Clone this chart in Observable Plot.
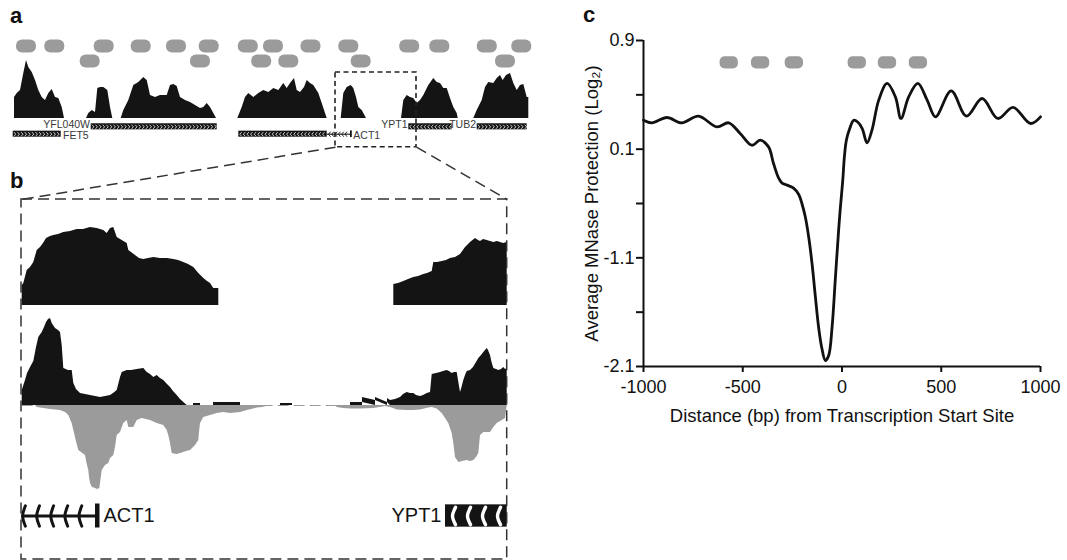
<!DOCTYPE html>
<html><head><meta charset="utf-8">
<script src="https://cdn.jsdelivr.net/npm/d3@7"></script>
<script src="https://cdn.jsdelivr.net/npm/@observablehq/plot@0.6"></script>
<style>
html,body{margin:0;padding:0;background:#fff;}
#fig{position:relative;width:1067px;height:560px;overflow:hidden;font-family:"Liberation Sans",Arial,Helvetica,sans-serif;}
.layer{position:absolute;}
.layer svg{display:block;max-width:none;}
.letter{position:absolute;font-weight:bold;font-size:22px;line-height:1;color:#111;}
</style></head><body><div id="fig"></div>
<script>
const FONT = '"Liberation Sans", Arial, Helvetica, sans-serif';

// ================= Panel a (genome browser overview, positions in a.u.) =================
const nucRow0 = [26, 54.3, 103.7, 140.7, 176, 208.7, 247.8, 273, 310.5, 348.3, 409.2, 439.3, 486.8, 521.3];
const nucRow1 = [89.7, 200, 261.2, 288.3, 360.7, 505];

const covA1 = [[14,0],[14,21],[16.7,25],[20,28],[23.3,45],[26,58],[28.3,51],[31.7,46],[35,38],[38.3,28],[41.7,21],[45,18],[48.3,25],[51.7,29],[55,21],[58.3,20],[61.7,11],[64,0]];
const covA2 = [[86,0],[88.3,5],[91.7,8],[95,6],[97.3,30],[100,31],[103.3,31],[107.3,28],[110,11],[112.3,0]];
const covA3 = [[120.7,0],[123.3,8],[128.3,18],[133.3,33],[138.3,36],[143.3,41],[146.7,38],[150,23],[155,21],[160,23],[166.7,23],[170,33],[173.3,34],[176.7,32],[180,21],[185,18],[190,16],[195,13],[200,10],[203.3,11],[206.7,15],[210,11],[213.3,5],[216,0]];
const covA4 = [[237.3,0],[241.7,11],[245,21],[248.3,25],[253.3,21],[258.3,25],[263.3,28],[268.3,26],[273.3,30],[278.3,28],[283.3,35],[286.7,30],[290,35],[294,40],[296.7,28],[300,26],[304,31],[306.7,38],[310,35],[313.3,33],[318.3,25],[321.7,15],[325,5],[326.7,0]];
const covA5 = [[340.7,0],[343.3,25],[346.7,31],[350.7,33],[353.3,30],[356,21],[358.3,11],[361.7,8],[366,0]];
const covA6 = [[401,0],[403.3,18],[406.7,23],[410,21],[413.3,20],[416.7,15],[420,18],[423.3,23],[428.3,33],[433.3,40],[436.7,36],[440,35],[443.3,30],[446.7,30],[450,20],[453.3,11],[456.7,5],[457.7,0]];
const covA7 = [[473.3,0],[476.7,8],[481.7,18],[485,31],[488.3,36],[493.3,35],[496.7,40],[500,43],[502.7,38],[506,43],[510,45],[513.3,35],[516.7,28],[520,33],[523.3,34],[526.7,21],[528.3,21],[528.3,0]];

const geneNamesA = ["FET5", "YFL040W", "ACT1", "YPT1", "TUB2"];
const geneStartA = [12.7, 90.7, 238.3, 408.3, 476.7];
const geneEndA   = [60.7, 216.7, 326.7, 451.7, 526.7];
const geneRowA   = [1, 0, 1, 0, 0];
const geneStrandA = ["+", "+", "-", "-", "+"];
const geneLabelSideA = ["right", "left", null, "left", "left"];
const act1IntronA = [326.7, 350];
const act1Exon1A = [350, 351.8];

// ================= Panel b (zoomed region) =================
const covB1L = [[21.7,0],[21.7,20],[23.3,22],[26.7,35],[30,38],[33.3,43],[36.7,55],[40,58],[43,62],[46,67],[50,69],[53.3,70],[58,71],[63.3,73],[70,74],[76.7,76],[83,76],[90,78],[96.7,77],[100,76],[103.3,75],[106.7,72],[110,77],[113.3,78],[116.7,68],[121.7,65],[126.7,62],[128.3,55],[131,53],[135,50],[139,47],[143.3,46],[148,47],[153.3,48],[160,47],[167,47],[173.3,46],[178,45],[183.3,43],[188,41],[193.3,38],[198.3,32],[203.3,27],[207,24],[210,22],[213.3,17],[218.3,17],[218.3,0]];
const covB1R = [[393.3,0],[393.3,21],[398,22],[403.3,24],[408,26],[413.3,28],[418,29],[423.3,31],[427,32],[431.7,34],[433.3,43],[437,43],[441.7,44],[446,45],[450,47],[455,48],[460,51],[465,58],[470,63],[475,67],[478,65],[480,64],[483,66],[486.7,65],[490,64],[493.3,63],[497,64],[500,63],[503,62],[506.7,63],[506.7,0]];

const wtPos = [[21.7,0],[21.7,15],[25,25],[27,32],[30,38],[33.3,44],[36,58],[38.3,68],[41.7,73],[44,78],[46,83],[48,86],[50,87],[51.7,82],[53,80],[55,77],[58,75],[60,73],[61.7,60],[63.3,37],[68,35],[71.7,35],[73.3,22],[76,16],[80,12],[85,11],[90,10],[95,9],[100,8],[105,9],[110,10],[113,12],[116.7,15],[120,28],[121.7,33],[126.7,35],[131,35],[136.7,36],[143.3,37],[146.7,33],[150,31],[153.3,28],[156.7,30],[160,27],[163.3,25],[166,22],[170,18],[173,14],[176.7,10],[180,6],[183.3,3],[186.7,0],[193,0],[193,2],[200,2],[200,0],[213,0],[213,3],[240,3],[240,0],[280,0],[280,2],[292,2],[292,0],[350,0],[350,3],[362,3],[362,5],[375,5],[375,3],[387,3],[387,4],[390,5],[395,6],[400,8],[403,11],[406.7,13],[410,12],[413.3,12],[416,10],[420,9],[423,10],[426.7,12],[430,13],[431.7,31],[436,32],[440,33],[443,34],[446.7,35],[449,34],[451.7,32],[454,33],[456.7,33],[458,25],[460,13],[461.5,18],[463.3,25],[465,30],[466.7,34],[470,35],[473,38],[476,43],[478.3,47],[481,50],[483.3,53],[485,55],[486.7,57],[488,55],[490,50],[491.5,43],[493.3,37],[496,36],[498.3,35],[501,36],[503.3,38],[505,36],[506.7,37],[506.7,0]];
const mutNeg = [[35,0],[36.7,-2],[43.3,-3],[50,-4],[60,-5],[65,-7],[68.3,-10],[70,-14],[71.7,-18],[73.3,-25],[75,-32],[76.7,-39],[78.3,-45],[81,-47],[85,-50],[86.5,-58],[88.3,-65],[89,-72],[90,-78],[92,-82],[95,-83],[97,-84],[99.3,-83],[100.5,-74],[101.7,-65],[105,-60],[108.3,-58],[110,-53],[113.3,-50],[115,-42],[116.7,-30],[120,-27],[123.3,-18],[126.7,-15],[128.3,-22],[133.3,-22],[136.7,-15],[141.7,-13],[146,-14],[150,-15],[156.7,-18],[163.3,-20],[166.7,-25],[168.5,-31],[170,-38],[171.7,-48],[176.7,-49],[180,-48],[183.3,-47],[186,-46],[190,-45],[195,-40],[198.3,-35],[199,-27],[200,-18],[203.3,-12],[210,-10],[216.7,-8],[223.3,-7],[230,-8],[240,-7],[246.7,-5],[251,-4],[256.7,-2.5],[262,-2],[270,0],[335,0],[336.7,-2],[343.3,-3],[350,-3.5],[360,-3.5],[373.3,-3],[385,-1],[391.7,-2.5],[396.7,-4.5],[406.7,-5],[413,-5],[420,-4.5],[428.3,-2.5],[431.7,-2],[436.7,-3.5],[441.7,-8],[445,-13],[448.3,-18],[451.7,-28],[453.3,-38],[455,-52],[458.3,-57],[462,-56],[466.7,-55],[470,-56],[473.3,-55],[476,-52],[478.3,-48],[480,-30],[483.3,-27],[487,-27],[490,-27],[493.3,-22],[496.7,-18],[501.7,-15],[505,-13],[506.7,0]];

const act1B = {intron: [21.7, 95], exon1: [95, 99.5]};
const ypt1B = {exon: [445, 506.7]};

// ================= Panel c =================
const tssDistance = [-1000,-958,-882,-807,-723,-630,-571,-513,-454,-412,-370,-345,-319,-302,-277,-244,-218,-202,-185,-168,-151,-134,-118,-101,-84,-67,-50,-34,-17,-8,4,12,22,39,59,79,102,126,151,185,227,269,297,336,382,429,471,550,627,706,785,862,950,1000];
const mnaseProtection = [0.313,0.294,0.333,0.294,0.343,0.264,0.294,0.216,0.129,0.166,0.117,-0.058,-0.22,-0.275,-0.297,-0.33,-0.40,-0.50,-0.647,-0.868,-1.152,-1.46,-1.737,-1.937,-2.045,-1.998,-1.737,-1.306,-0.794,-0.54,-0.24,0.015,0.166,0.252,0.313,0.30,0.252,0.146,0.24,0.461,0.584,0.485,0.326,0.485,0.584,0.461,0.338,0.529,0.343,0.473,0.326,0.407,0.289,0.338];
const nucCentersC = [-568, -410, -240, 77, 229, 385];
const yTicksC = [-2.1, -1.6, -1.1, -0.5, 0.1, 0.5, 0.9];
const yTickLabelsC = ["-2.1", "", "-1.1", "", "0.1", "", "0.9"];
const xTicksC = [-1000, -500, 0, 500, 1000];

// ================= helpers =================
const fig = document.getElementById("fig");
function place(plot, left, top) {
  const div = document.createElement("div");
  div.className = "layer";
  div.style.left = left + "px";
  div.style.top = top + "px";
  div.appendChild(plot);
  fig.appendChild(div);
  return plot;
}
function letter(t, left, top) {
  const d = document.createElement("div");
  d.className = "letter"; d.textContent = t;
  d.style.left = left + "px"; d.style.top = top + "px";
  fig.appendChild(d);
}
const baseStyle = {background: "transparent", fontFamily: FONT, overflow: "visible"};
const posScaleLeft = {domain: [0, 540], range: [0, 540], axis: null};
const toRows = (arr, seg) => arr.map(([x, v]) => ({x, v, seg}));
// chevron polylines (3 points each) along a feature
function chevrons(starts, ends, rows, dirs, step, halfW, halfH, inset) {
  const pts = [];
  let id = 0;
  starts.forEach((s, i) => {
    d3.range(s + inset, ends[i] - inset * 0.6, step).forEach(x => {
      const d = dirs[i];
      pts.push({x: x - halfW * d, y: rows[i] - halfH, id});
      pts.push({x: x + halfW * d, y: rows[i], id});
      pts.push({x: x - halfW * d, y: rows[i] + halfH, id});
      id++;
    });
  });
  return pts;
}

// ---------- Panel a: nucleosomes ----------
const nucA = [...nucRow0.map(c => ({c, row: 0})), ...nucRow1.map(c => ({c, row: 1}))];
place(Plot.plot({
  width: 540, height: 34, margin: 0, style: baseStyle,
  x: posScaleLeft,
  y: {domain: [-0.5, 1.5], range: [2.5, 32.5], axis: null},
  marks: [Plot.rect(nucA, {x1: d => d.c - 10, x2: d => d.c + 10, y1: d => d.row - 0.43, y2: d => d.row + 0.43, rx: 6, fill: "#9b9b9b"})]
}), 0, 36);

// ---------- Panel a: coverage ----------
const covA = [covA1, covA2, covA3, covA4, covA5, covA6, covA7].flatMap((s, i) => toRows(s, i));
place(Plot.plot({
  width: 540, height: 70, margin: 0, style: baseStyle,
  x: posScaleLeft,
  y: {domain: [0, 62], range: [68, 6], axis: null},
  marks: [Plot.areaY(covA, {x: "x", y: "v", z: "seg", fill: "#141414"})]
}), 0, 50);

// ---------- Panel a: genes ----------
const genesA = geneNamesA.map((name, i) => ({name, x1: geneStartA[i], x2: geneEndA[i], row: geneRowA[i], strand: geneStrandA[i], side: geneLabelSideA[i]}));
const chevA = chevrons(geneStartA, geneEndA, geneRowA, geneStrandA.map(s => s === "+" ? 1 : -1), 3.6, 0.8, 0.24, 1.8);
const intronChevA = chevrons([act1IntronA[0]], [act1IntronA[1]], [1], [-1], 3.3, 0.9, 0.3, 2.2);
const labelsLeftA = genesA.filter(g => g.side === "left").map(g => ({name: g.name, row: g.row, x: g.x1 - 1.2}));
const labelsRightA = [
  ...genesA.filter(g => g.side === "right").map(g => ({name: g.name, row: g.row, x: g.x2 + 1.8})),
  {name: "ACT1", row: 1, x: act1Exon1A[1] + 1}
];
place(Plot.plot({
  width: 540, height: 24, margin: 0, style: baseStyle,
  x: posScaleLeft,
  y: {domain: [-0.5, 1.5], range: [4.6, 19.4], axis: null},
  marks: [
    Plot.rect(genesA, {x1: "x1", x2: "x2", y1: d => d.row - 0.41, y2: d => d.row + 0.41, fill: "#141414"}),
    Plot.line(chevA, {x: "x", y: "y", z: "id", stroke: "#fff", strokeWidth: 0.8}),
    Plot.ruleY([1], {x1: act1IntronA[0], x2: act1IntronA[1], stroke: "#141414", strokeWidth: 1.1}),
    Plot.line(intronChevA, {x: "x", y: "y", z: "id", stroke: "#141414", strokeWidth: 0.9}),
    Plot.rect([1], {x1: act1Exon1A[0], x2: act1Exon1A[1], y1: d => d - 0.45, y2: d => d + 0.45, fill: "#141414"}),
    Plot.text(labelsLeftA.filter(d => d.row === 0), {x: "x", y: "row", text: "name", textAnchor: "end", fontSize: 10.5, dy: -2, fill: "#3a3a3a"}),
    Plot.text(labelsRightA, {x: "x", y: "row", text: "name", textAnchor: "start", fontSize: 10.5, dy: 1.5, fill: "#3a3a3a"})
  ]
}), 0, 118);

// ---------- Panel b: top track ----------
const covB1 = [...toRows(covB1L, 0), ...toRows(covB1R, 1)];
place(Plot.plot({
  width: 540, height: 95, margin: 0, style: baseStyle,
  x: posScaleLeft,
  y: {domain: [0, 85], range: [90, 5], axis: null},
  marks: [Plot.areaY(covB1, {x: "x", y: "v", z: "seg", fill: "#141414"})]
}), 0, 215);

// ---------- Panel b: middle track ----------
place(Plot.plot({
  width: 540, height: 185, margin: 0, style: baseStyle,
  x: posScaleLeft,
  y: {domain: [-90, 90], range: [185, 5], axis: null},
  marks: [
    Plot.ruleY([0], {x1: 21.7, x2: 506.7, stroke: "#9b9b9b", strokeWidth: 1, strokeDasharray: "11,5"}),
    Plot.areaY(toRows(mutNeg, 0), {x: "x", y: "v", fill: "#9b9b9b"}),
    Plot.areaY(toRows(wtPos, 0), {x: "x", y: "v", fill: "#141414"})
  ]
}), 0, 310);

// ---------- Panel b: genes ----------
const act1Barbs = chevrons([act1B.intron[0]], [act1B.exon1[0]], [0], [-1], 14.1, 1.4, 0.85, 1.8);
const ypt1Barbs = chevrons([ypt1B.exon[0]], [ypt1B.exon[1]], [0], [-1], 15, 1.5, 0.72, 8.5);
place(Plot.plot({
  width: 540, height: 42, margin: 0, style: baseStyle,
  x: posScaleLeft,
  y: {domain: [-1, 1], range: [32.5, 8.5], axis: null},
  marks: [
    Plot.ruleY([0], {x1: act1B.intron[0], x2: act1B.intron[1], stroke: "#141414", strokeWidth: 3.2}),
    Plot.line(act1Barbs, {x: "x", y: "y", z: "id", curve: "natural", stroke: "#141414", strokeWidth: 3}),
    Plot.rect([0], {x1: act1B.exon1[0], x2: act1B.exon1[1], y1: () => -1, y2: () => 1, fill: "#141414"}),
    Plot.text(["ACT1"], {x: () => act1B.exon1[1] + 3.5, y: () => 0, text: d => d, textAnchor: "start", fontSize: 20, fill: "#141414"}),
    Plot.rect([0], {x1: ypt1B.exon[0], x2: ypt1B.exon[1], y1: () => -0.93, y2: () => 0.93, fill: "#141414"}),
    Plot.line(ypt1Barbs, {x: "x", y: "y", z: "id", curve: "natural", stroke: "#fff", strokeWidth: 3.4}),
    Plot.text(["YPT1"], {x: () => ypt1B.exon[0] - 4, y: () => 0, text: d => d, textAnchor: "end", fontSize: 20, fill: "#141414"})
  ]
}), 0, 495);

// ---------- Panels a/b: zoom box, frame and connectors ----------
const zoomBoxA = {x1: 335, x2: 416, y1: 72, y2: 146.7};
const frameB = {x1: 21, x2: 506.7, y1: 199, y2: 559};
const connectors = [
  {x1: zoomBoxA.x1, y1: zoomBoxA.y2, x2: frameB.x1, y2: frameB.y1},
  {x1: zoomBoxA.x2, y1: zoomBoxA.y2, x2: frameB.x2, y2: frameB.y1}
];
place(Plot.plot({
  width: 540, height: 560, margin: 0, style: baseStyle,
  x: {domain: [0, 540], range: [0, 540], axis: null},
  y: {domain: [0, 560], range: [0, 560], axis: null},
  marks: [
    Plot.rect([zoomBoxA], {x1: "x1", x2: "x2", y1: "y1", y2: "y2", fill: "none", stroke: "#222", strokeWidth: 1.6, strokeDasharray: "5,3.5"}),
    Plot.rect([frameB], {x1: "x1", x2: "x2", y1: "y1", y2: "y2", fill: "none", stroke: "#333", strokeWidth: 1.5, strokeDasharray: "11,6"}),
    Plot.link(connectors, {x1: "x1", y1: "y1", x2: "x2", y2: "y2", stroke: "#333", strokeWidth: 1.5, strokeDasharray: "11,6"})
  ]
}), 0, 0);

// ---------- Panel c ----------
const profile = tssDistance.map((x, i) => ({x, y: mnaseProtection[i]}));
const yLabelMap = new Map(yTicksC.map((t, i) => [t, yTickLabelsC[i]]));
place(Plot.plot({
  width: 507, height: 440, marginLeft: 83, marginRight: 27, marginTop: 40, marginBottom: 74,
  style: {...baseStyle, fontSize: "18px", color: "#111"},
  x: {type: "linear", domain: [-1000, 1000]},
  y: {type: "linear", domain: [-2.1, -1.1, 0.1, 0.9], range: [366, 257.33, 148.67, 40]},
  marks: [
    Plot.axisX({ticks: xTicksC, tickSize: 6, tickPadding: 8, strokeWidth: 2, fontSize: 18, label: null, tickFormat: d => String(d)}),
    Plot.axisY({ticks: yTicksC, tickSize: 7, tickPadding: 2, strokeWidth: 2, fontSize: 18, label: null, tickFormat: d => yLabelMap.get(d)}),
    Plot.ruleX([-1000], {stroke: "#111", strokeWidth: 2}),
    Plot.ruleY([-2.1], {stroke: "#111", strokeWidth: 2}),
    Plot.rect(nucCentersC, {x1: d => d - 46, x2: d => d + 46, y1: () => 0.69, y2: () => 0.78, rx: 5, fill: "#9b9b9b"}),
    Plot.line(profile, {x: "x", y: "y", curve: "catmull-rom", stroke: "#111", strokeWidth: 2.8}),
    Plot.text(["Distance (bp) from Transcription Start Site"], {frameAnchor: "bottom", lineAnchor: "middle", textAnchor: "middle", dy: 50, fontSize: 18.5, fill: "#111"}),
    Plot.text(["Average MNase Protection (Log₂)"], {frameAnchor: "left", textAnchor: "middle", lineAnchor: "middle", rotate: -90, dx: -51, fontSize: 18.5, fill: "#111"})
  ]
}), 560, 0);

letter("a", 10, 5);
letter("b", 10, 170);
letter("c", 583, 4);
</script></body></html>
